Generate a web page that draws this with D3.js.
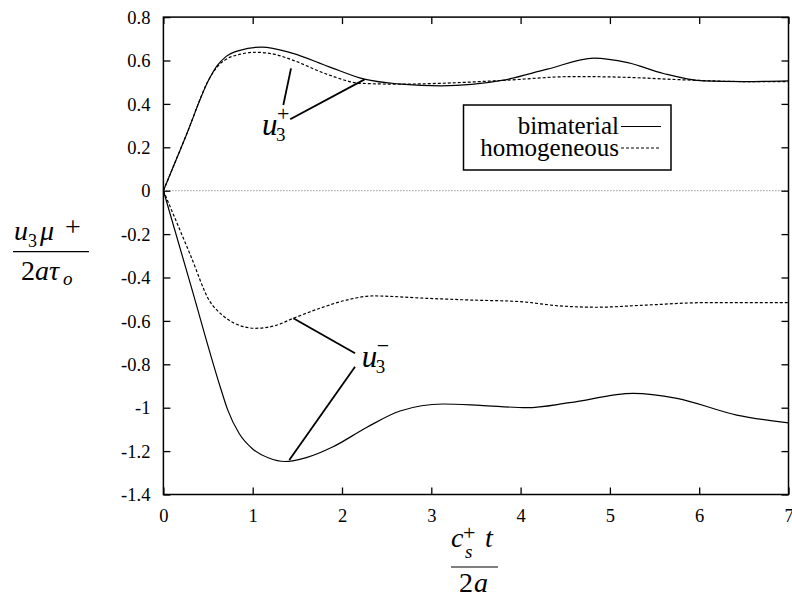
<!DOCTYPE html>
<html><head><meta charset="utf-8">
<script src="https://cdn.jsdelivr.net/npm/d3@7"></script>
<style>
body{margin:0;background:#fff}
svg{display:block;font-family:"Liberation Serif","Times New Roman","DejaVu Serif",serif}
text{font-family:"Liberation Serif","Times New Roman","DejaVu Serif",serif;fill:#000}
</style>
</head><body>
<svg id="chart" width="792" height="597"></svg>
<script>
// ---------- data ----------
const xTicks = [0,1,2,3,4,5,6,7];
const xTickLabels = ["0","1","2","3","4","5","6","7"];
const yTicks = [0.8,0.6,0.4,0.2,0,-0.2,-0.4,-0.6,-0.8,-1,-1.2,-1.4];
const yTickLabels = ["0.8","0.6","0.4","0.2","0","-0.2","-0.4","-0.6","-0.8","-1","-1.2","-1.4"];
const seriesNames = ["bimaterial","homogeneous"];

// u3+ bimaterial (solid)
const tBiPlus = [0,0.25,0.517,0.6,0.7,0.856,1.104,1.44,1.85,2.25,2.66,3.11,3.79,4.3,4.82,5.2,5.6,6.05,6.5,7.0];
const biPlus  = [0,0.25,0.518,0.575,0.618,0.647,0.662,0.634,0.572,0.514,0.491,0.483,0.508,0.56,0.611,0.59,0.54,0.506,0.503,0.506];
// u3+ homogeneous (dashed)
const tHoPlus = [0,0.25,0.517,0.6,0.7,0.85,1.036,1.25,1.44,1.85,2.21,2.66,3.11,3.79,4.6,5.14,5.82,6.5,7.0];
const hoPlus  = [0,0.25,0.518,0.57,0.605,0.628,0.638,0.628,0.603,0.534,0.495,0.491,0.495,0.508,0.526,0.523,0.511,0.503,0.503];
// u3- bimaterial (solid)
const tBiMinus = [0,0.3,0.64,0.72,0.85,1.0,1.18,1.36,1.6,1.9,2.28,2.65,3.13,3.545,4.07,4.55,5.26,5.75,6.42,7.0];
const biMinus  = [0,-0.426,-0.909,-1.01,-1.12,-1.19,-1.232,-1.248,-1.23,-1.18,-1.09,-1.015,-0.983,-0.989,-1.0,-0.977,-0.934,-0.957,-1.034,-1.07];
// u3- homogeneous (dashed)
const tHoMinus = [0,0.3,0.52,0.65,0.8,1.03,1.25,1.455,1.8,2.05,2.35,2.95,3.45,3.99,4.44,4.85,5.41,6.05,7.0];
const hoMinus  = [0,-0.294,-0.51,-0.57,-0.612,-0.634,-0.622,-0.588,-0.535,-0.504,-0.485,-0.496,-0.504,-0.511,-0.531,-0.537,-0.527,-0.516,-0.516];

// annotation leader lines (data units)
const leaderPlus  = [[[1.429,0.564],[1.343,0.395]], [[1.42,0.329],[2.254,0.513]]];
const leaderMinus = [[[1.455,-0.588],[2.146,-0.749]], [[1.41,-1.241],[2.146,-0.811]]];

// ---------- drawing ----------
const svg = d3.select("#chart");
const x = d3.scaleLinear().domain([0,7]).range([163.4,788.5]);
const y = d3.scaleLinear().domain([-1.4,0.8]).range([494.5,17.1]);
const SERIF = '"Liberation Serif","Times New Roman","DejaVu Serif",serif';

const zip = (ts, vs) => ts.map((t,i)=>[t,vs[i]]);
const line = d3.line().x(d=>x(d[0])).y(d=>y(d[1])).curve(d3.curveMonotoneX);

// zero line
svg.append("line").attr("x1",x(0)).attr("x2",x(7)).attr("y1",y(0)).attr("y2",y(0))
  .attr("stroke","#444").attr("stroke-width",0.8).attr("stroke-dasharray","1,2");

// axes with inward ticks
const tickLen = 7;
const gB = svg.append("g").attr("transform",`translate(0,${y(-1.4)})`)
  .call(d3.axisBottom(x).tickValues(xTicks).tickSizeInner(-tickLen).tickSizeOuter(0).tickFormat((d,i)=>xTickLabels[i]));
const gT = svg.append("g").attr("transform",`translate(0,${y(0.8)})`)
  .call(d3.axisTop(x).tickValues(xTicks).tickSizeInner(-tickLen).tickSizeOuter(0).tickFormat(""));
const gL = svg.append("g").attr("transform",`translate(${x(0)},0)`)
  .call(d3.axisLeft(y).tickValues(yTicks).tickSizeInner(-tickLen).tickSizeOuter(0).tickFormat((d,i)=>yTickLabels[i]));
const gR = svg.append("g").attr("transform",`translate(${x(7)},0)`)
  .call(d3.axisRight(y).tickValues(yTicks).tickSizeInner(-tickLen).tickSizeOuter(0).tickFormat(""));
[gB,gT,gL,gR].forEach(g=>{
  g.attr("font-family",SERIF);
  g.select(".domain").remove();
  g.selectAll(".tick line").attr("stroke","#000").attr("stroke-width",1.3);
  g.selectAll("text").style("font-family",SERIF).style("font-size","18.5px").attr("fill","#000");
});
gB.selectAll(".tick text").attr("dy",null).attr("y",27.5);
gL.selectAll(".tick text").attr("x",-13).attr("dy","0.33em");

// frame
svg.append("rect").attr("x",x(0)).attr("y",y(0.8)).attr("width",x(7)-x(0)).attr("height",y(-1.4)-y(0.8))
  .attr("fill","none").attr("stroke","#000").attr("stroke-width",1.5);

// curves
const series = [
  {d:zip(tBiPlus,biPlus), dash:null},
  {d:zip(tHoPlus,hoPlus), dash:"3,2"},
  {d:zip(tBiMinus,biMinus), dash:null},
  {d:zip(tHoMinus,hoMinus), dash:"3,2"}
];
svg.selectAll("path.curve").data(series).join("path").attr("class","curve")
  .attr("d",s=>line(s.d)).attr("fill","none").attr("stroke","#000")
  .attr("stroke-width",1.2).attr("stroke-dasharray",s=>s.dash);

// leader lines
svg.selectAll("line.leader").data(leaderPlus.concat(leaderMinus)).join("line").attr("class","leader")
  .attr("x1",d=>x(d[0][0])).attr("y1",d=>y(d[0][1])).attr("x2",d=>x(d[1][0])).attr("y2",d=>y(d[1][1]))
  .attr("stroke","#000").attr("stroke-width",1.8);

// annotation labels
function uLabel(px, py, sign){
  const g = svg.append("text");
  g.append("tspan").attr("x",px).attr("y",py).style("font-style","italic").style("font-size","31px").text("u");
  g.append("tspan").attr("x",px+14).attr("y",py+6).style("font-size","19px").text("3");
  g.append("tspan").attr("x",px+15).attr("y",py-14).style("font-size","22px").text(sign);
}
uLabel(x(1.104), y(0.257), "+");
uLabel(x(2.22), y(-0.811), "−");

// legend
const lg = svg.append("g");
lg.append("rect").attr("x",463.5).attr("y",105).attr("width",207.5).attr("height",65)
  .attr("fill","#fff").attr("stroke","#000").attr("stroke-width",1.5);
const legendDash=[null,"3,2"];
seriesNames.forEach((n,i)=>{
  lg.append("text").attr("x",619).attr("y",134+i*21.5).attr("text-anchor","end").style("font-size","25px").text(n);
  lg.append("line").attr("x1",621).attr("x2",661).attr("y1",126.5+i*21.5).attr("y2",126.5+i*21.5)
    .attr("stroke","#000").attr("stroke-width",1.2).attr("stroke-dasharray",legendDash[i]);
});

// y title: u3 mu+ / 2a tau_o
const yt = svg.append("text").style("font-size","28px");
yt.append("tspan").attr("x",14).attr("y",240).style("font-style","italic").text("u");
yt.append("tspan").attr("x",28).attr("y",247).style("font-size","18px").text("3");
yt.append("tspan").attr("x",40).attr("y",240).style("font-style","italic").text("μ");
yt.append("tspan").attr("x",65).attr("y",236).text("+");
svg.append("line").attr("x1",13).attr("x2",89).attr("y1",251.7).attr("y2",251.7).attr("stroke","#000").attr("stroke-width",1.2);
const yd = svg.append("text").style("font-size","28px");
yd.append("tspan").attr("x",21).attr("y",280).text("2");
yd.append("tspan").attr("x",35).attr("y",280).style("font-style","italic").text("aτ");
yd.append("tspan").attr("x",63).attr("y",285).style("font-style","italic").style("font-size","19px").text("o");

// x title: c_s^+ t / 2a
const xt = svg.append("text").style("font-size","28px");
xt.append("tspan").attr("x",451).attr("y",547).style("font-style","italic").text("c");
xt.append("tspan").attr("x",463).attr("y",540).style("font-size","22px").text("+");
xt.append("tspan").attr("x",465).attr("y",558).style("font-style","italic").style("font-size","19px").text("s");
xt.append("tspan").attr("x",485).attr("y",547).style("font-style","italic").text("t");
svg.append("line").attr("x1",451).attr("x2",498).attr("y1",567).attr("y2",567).attr("stroke","#000").attr("stroke-width",1.2);
const xd = svg.append("text").style("font-size","28px");
xd.append("tspan").attr("x",459).attr("y",592).text("2");
xd.append("tspan").attr("x",474).attr("y",592).style("font-style","italic").text("a");
</script>
</body></html>
